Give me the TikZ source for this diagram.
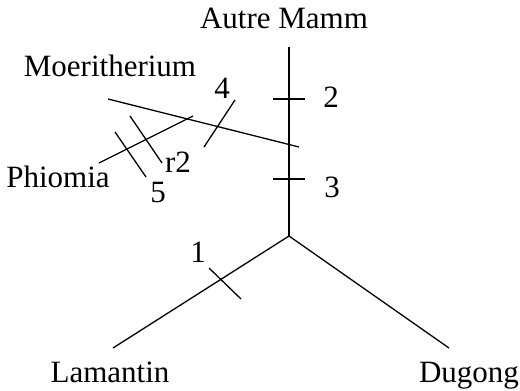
\documentclass[tikz,border=0pt]{standalone}
\usepackage{fontspec}
\setmainfont{Liberation Serif}
\usepackage{tikz}
\usetikzlibrary{positioning,calc}
\tikzset{
    x=1pt,
    y=-1pt,
    branch/.style = {
        draw,
        line width=1.3pt
    },
    tickline/.style = {
        draw,
        line width=1.3pt
    },
    taxon/.style = {
        shape=rectangle,
        inner sep=0pt,
        anchor=base,
        font=\fontsize{31}{36}\selectfont
    },
    charlabel/.style = {
        shape=rectangle,
        inner sep=0pt,
        anchor=base,
        font=\fontsize{31}{36}\selectfont
    },
}
\begin{document}
\begin{tikzpicture}
                \useasboundingbox (0,0) rectangle (520,391);
                \coordinate (root) at (289,236);
                \coordinate (top) at (289,47);
                \coordinate (lam) at (113,348);
                \coordinate (dug) at (449,348);
                \coordinate (moea) at (108,99);
                \coordinate (moeb) at (299,147);
                \coordinate (phia) at (99,163);
                \coordinate (phib) at (193,116);

                \node[taxon] (autre) at (284,28) {Autre Mamm};
                \node[taxon] (moer) at (110,76) {Moeritherium};
                \node[taxon] (phio) at (58,187) {Phiomia};
                \node[taxon] (lamantin) at (110,382) {Lamantin};
                \node[taxon] (dugong) at (469,382) {Dugong};

                \path[branch] (top) -- (root);
                \path[branch] (root) -- (lam);
                \path[branch] (root) -- (dug);
                \path[branch] (moea) -- (moeb);
                \path[branch] (phia) -- (phib);

                \coordinate (t2a) at (273,99);  \coordinate (t2b) at (305,99);
                \coordinate (t3a) at (273,179); \coordinate (t3b) at (305,179);
                \coordinate (t4a) at (235,100); \coordinate (t4b) at (204,147);
                \coordinate (t5a) at (115,132); \coordinate (t5b) at (146,177);
                \coordinate (tra) at (130,116); \coordinate (trb) at (162,163);
                \coordinate (t1a) at (209,268); \coordinate (t1b) at (241,299);
                \path[tickline] (t2a) -- (t2b);
                \path[tickline] (t3a) -- (t3b);
                \path[tickline] (t4a) -- (t4b);
                \path[tickline] (t5a) -- (t5b);
                \path[tickline] (tra) -- (trb);
                \path[tickline] (t1a) -- (t1b);

                \node[charlabel] (m2) at (331,107) {2};
                \node[charlabel] (m3) at (332,197) {3};
                \node[charlabel] (m4) at (222,98) {4};
                \node[charlabel] (m5) at (158,202) {5};
                \node[charlabel] (mr) at (178,172) {r2};
                \node[charlabel] (m1) at (198,262) {1};
            \end{tikzpicture}
\end{document}
